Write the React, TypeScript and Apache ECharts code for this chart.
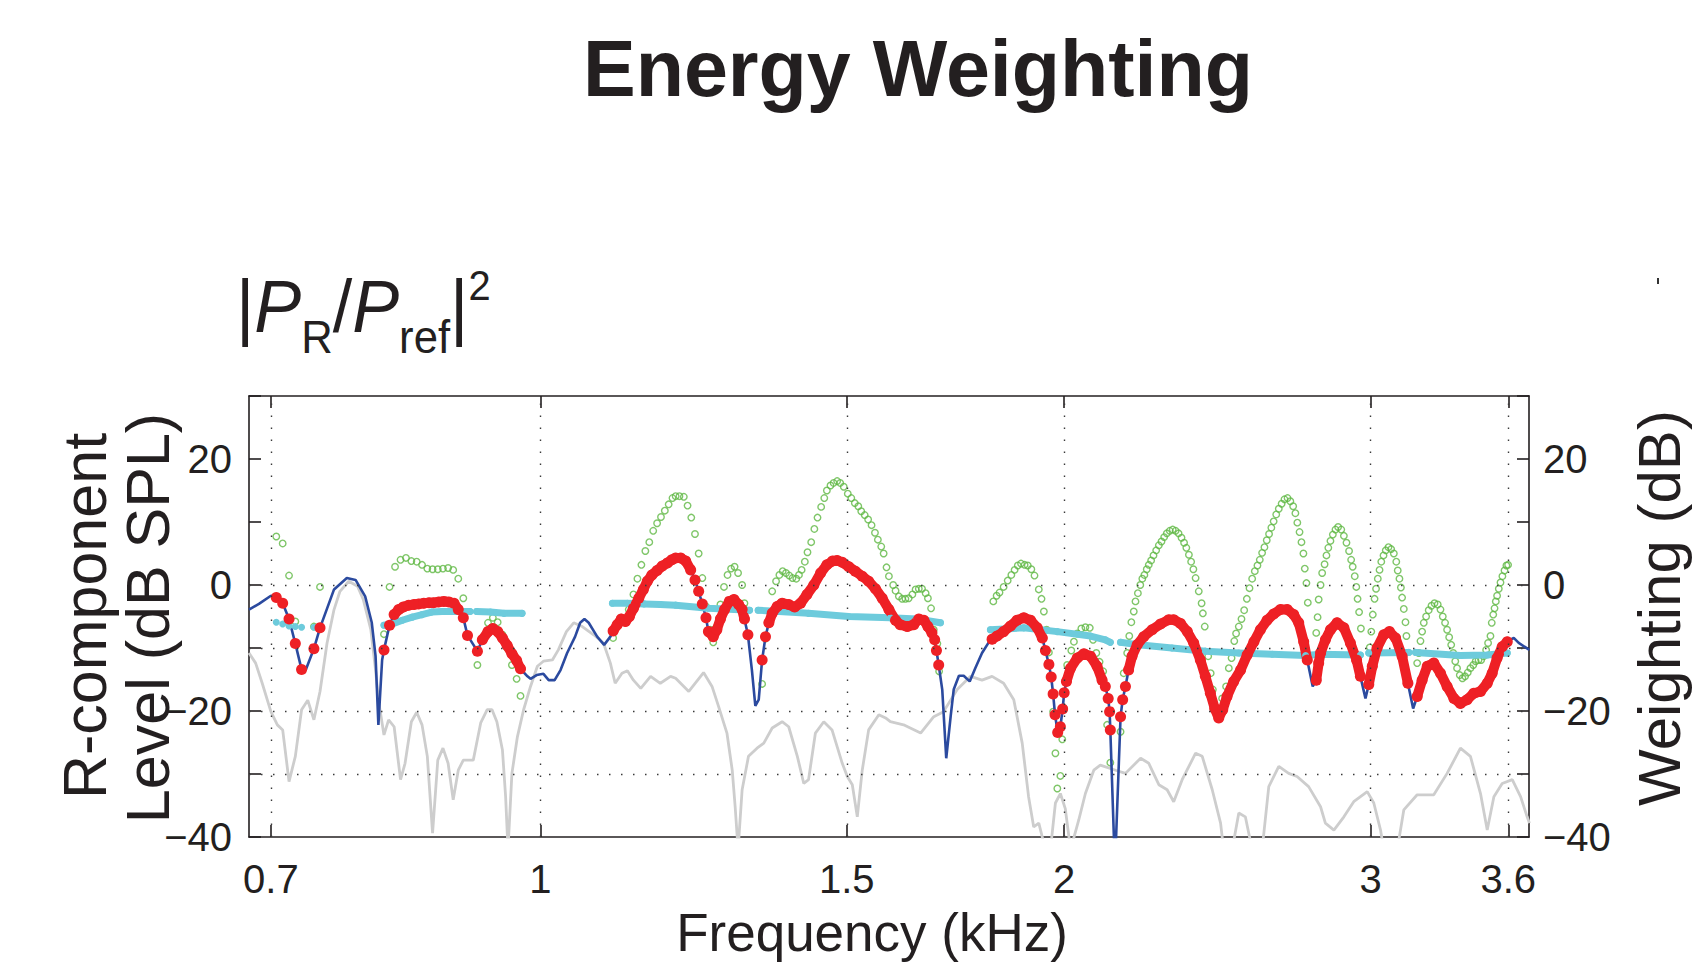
import React, { useEffect, useRef } from "react";
import * as echarts from "echarts";

type Pt = [number, number];
type MaybePt = Pt | null;

// ---------- axes ----------
const X_MIN = 0.68;
const X_MAX = 3.7;
const Y_MIN = -40;
const Y_MAX = 30;
const Y_STEP = 10;
const xTickValues = [0.7, 1, 1.5, 2, 3, 3.6];
const xTickLabels = ["0.7", "1", "1.5", "2", "3", "3.6"];
const yGridValues = [0, -10, -20, -30];

// ---------- data: [frequency kHz, level dB] ----------
const grayCurve: Pt[] = [
  [0.68, -10.8], [0.686, -12.4], [0.692, -15.6], [0.7, -20.1], [0.706, -22.2], [0.711, -23.0],
  [0.717, -31.2], [0.723, -27.2], [0.729, -19.8], [0.735, -18.3], [0.741, -21.4], [0.747, -16.9],
  [0.754, -9.2], [0.761, -3.9], [0.767, -1.0], [0.776, 0.6], [0.785, -0.2], [0.791, -2.3],
  [0.799, -7.1], [0.804, -13.5], [0.807, -18.2], [0.813, -23.8], [0.818, -21.4], [0.824, -22.5],
  [0.831, -30.9], [0.836, -28.3], [0.843, -21.7], [0.849, -20.2], [0.855, -22.2], [0.861, -27.2],
  [0.867, -39.4], [0.873, -27.8], [0.879, -25.9], [0.885, -28.3], [0.891, -34.1], [0.897, -29.4],
  [0.903, -27.8], [0.915, -27.8], [0.924, -21.9], [0.932, -19.8], [0.938, -19.8], [0.944, -21.7],
  [0.951, -26.2], [0.955, -33.6], [0.958, -42], [0.963, -29.9], [0.97, -24.1], [0.978, -19.8],
  [0.987, -16.1], [0.996, -12.9], [1.004, -12.1], [1.016, -11.9], [1.024, -10.3], [1.035, -7.4],
  [1.045, -6.0], [1.057, -6.6], [1.073, -7.9], [1.087, -9.2], [1.097, -12.4], [1.104, -15.6],
  [1.114, -14.0], [1.122, -13.6], [1.131, -15.1], [1.142, -16.4], [1.157, -14.5], [1.172, -15.6],
  [1.188, -14.5], [1.196, -14.8], [1.217, -16.9], [1.241, -13.9], [1.255, -16.1], [1.266, -19.3],
  [1.28, -23.5], [1.289, -29.4], [1.294, -35.2], [1.299, -42], [1.306, -32.5], [1.317, -27.2],
  [1.332, -25.9], [1.344, -25.1], [1.359, -22.7], [1.377, -21.7], [1.389, -22.5], [1.405, -27.2],
  [1.417, -31.5], [1.426, -30.9], [1.439, -23.5], [1.455, -21.7], [1.471, -23.0], [1.491, -28.3],
  [1.501, -30.4], [1.511, -31.7], [1.521, -36.8], [1.531, -29.4], [1.544, -23.0], [1.565, -20.6],
  [1.579, -21.1], [1.589, -21.7], [1.617, -22.2], [1.654, -23.5], [1.683, -20.9], [1.705, -20.1],
  [1.736, -16.6], [1.767, -14.5], [1.794, -15.1], [1.818, -14.5], [1.846, -15.6], [1.871, -18.2],
  [1.892, -25.1], [1.908, -33.6], [1.921, -38.4], [1.934, -37.8], [1.951, -42], [1.964, -42],
  [1.977, -34.6], [1.99, -33.1], [2.003, -35.5], [2.017, -42], [2.039, -37.3], [2.057, -33.1],
  [2.08, -29.4], [2.098, -28.6], [2.141, -29.4], [2.169, -29.9], [2.213, -27.5], [2.237, -28.3],
  [2.267, -31.7], [2.292, -32.5], [2.312, -34.4], [2.338, -30.9], [2.38, -26.7], [2.401, -27.2],
  [2.433, -32.5], [2.46, -37.8], [2.47, -42], [2.498, -42], [2.52, -36.2], [2.542, -36.8],
  [2.565, -42], [2.599, -42], [2.622, -32.0], [2.657, -28.8], [2.692, -29.9], [2.722, -30.4],
  [2.764, -32.0], [2.808, -35.2], [2.826, -37.8], [2.858, -38.9], [2.896, -36.8], [2.934, -34.4],
  [2.987, -32.8], [3.013, -34.6], [3.04, -38.9], [3.053, -42], [3.108, -42], [3.135, -35.7],
  [3.191, -33.3], [3.262, -33.3], [3.32, -29.9], [3.379, -25.9], [3.424, -27.2], [3.47, -33.1],
  [3.501, -38.9], [3.532, -33.6], [3.571, -31.5], [3.619, -30.9], [3.659, -33.6], [3.691, -36.8],
  [3.702, -37.8],
];

// blue curve where it is not covered by the red samples
const blueCurveOnly: Pt[] = [
  [0.68, -3.9], [0.689, -3.0], [0.7, -1.7], [0.733, -13.5], [0.761, -0.7], [0.774, 1.1],
  [0.783, 0.8], [0.793, -1.8], [0.8, -6.0], [0.804, -11.3], [0.807, -22.2], [0.811, -11.9],
  [0.983, -14.5], [0.987, -14.9], [0.995, -14.3], [1.004, -14.1], [1.011, -15.1], [1.019, -15.1],
  [1.027, -13.5], [1.036, -10.8], [1.047, -8.2], [1.054, -6.0], [1.06, -5.4], [1.066, -6.0],
  [1.078, -8.2], [1.088, -9.5], [1.097, -8.2], [1.323, -13.5], [1.329, -19.2], [1.335, -18.2],
  [1.702, -16.6], [1.711, -27.5], [1.721, -20.9], [1.728, -16.6], [1.74, -14.4], [1.751, -14.4],
  [1.765, -15.3], [1.778, -13.2], [1.794, -10.8], [1.81, -9.1], [1.986, -24.0], [2.139, -45],
  [2.779, -16.1], [2.98, -18.0], [3.174, -19.6], [3.626, -8.4], [3.65, -9.2], [3.702, -10.3],
];

// red samples (null = gap between visibly separate dots / segments)
const redDots: MaybePt[] = [
  [0.705, -2.0], null, [0.711, -2.9], null, [0.717, -5.4], null, [0.723, -9.3], null,
  [0.729, -13.4], null, [0.741, -10.1], null, [0.747, -6.8], null,
  [0.813, -10.3], null, [0.819, -6.4], null,
  [0.824, -4.7], [0.829, -3.9], [0.834, -3.5], [0.84, -3.2], [0.846, -3.1], [0.851, -3.0],
  [0.857, -2.9], [0.863, -2.8], [0.868, -2.8], [0.874, -2.7], [0.88, -2.6], [0.886, -2.7],
  [0.892, -2.9], [0.897, -3.9], null,
  [0.903, -5.2], null, [0.908, -8.0], null, [0.92, -10.5], null,
  [0.926, -8.7], [0.933, -7.4], [0.939, -6.9], [0.945, -7.4], [0.951, -8.4], [0.957, -9.6],
  [0.963, -10.9], [0.969, -12.0], [0.974, -13.3], null,
  [1.101, -7.3], [1.107, -6.3], [1.113, -5.4], [1.119, -5.8], [1.125, -5.0], [1.131, -3.7],
  [1.139, -2.1], [1.146, -0.7], [1.152, 0.6], [1.159, 1.6], [1.167, 2.3], [1.175, 3.0],
  [1.183, 3.5], [1.19, 4.0], [1.196, 4.3], [1.204, 4.3], [1.212, 3.8], [1.22, 2.4], null,
  [1.227, 0.8], null, [1.233, -1.0], null, [1.239, -3.0], null, [1.245, -5.2], null,
  [1.249, -7.4], [1.257, -8.2], [1.263, -7.1], [1.269, -5.4], [1.276, -3.9], [1.284, -2.6],
  [1.292, -2.3], [1.3, -3.1], [1.306, -3.9], [1.31, -5.4], null,
  [1.316, -7.9], null, [1.341, -11.9], null, [1.347, -8.2], null,
  [1.353, -6.0], [1.359, -4.5], [1.368, -3.4], [1.377, -2.9], [1.389, -3.1], [1.4, -3.5],
  [1.411, -2.9], [1.423, -1.5], [1.436, 0.0], [1.449, 1.9], [1.461, 3.2], [1.472, 3.8],
  [1.481, 3.9], [1.491, 3.6], [1.504, 2.9], [1.517, 2.2], [1.531, 1.4], [1.544, 0.6],
  [1.558, -0.6], [1.572, -2.1], [1.586, -3.9], [1.6, -5.6], [1.61, -6.3], [1.625, -6.6],
  [1.639, -6.3], [1.65, -5.4], [1.661, -5.6], [1.67, -6.6], [1.679, -7.6], null,
  [1.685, -8.7], null, [1.689, -10.4], null, [1.694, -12.7], null,
  [1.818, -8.6], [1.83, -8.1], [1.846, -7.4], [1.863, -6.5], [1.879, -5.6], [1.896, -5.2],
  [1.913, -5.6], [1.93, -6.8], [1.943, -8.4], null,
  [1.951, -10.4], null, [1.96, -12.6], null, [1.966, -14.6], null, [1.971, -17.3], null,
  [1.976, -20.6], null, [1.983, -23.4], null, [1.99, -22.5], null, [1.996, -19.7], null,
  [2.0, -17.1], null,
  [2.006, -15.3], [2.017, -13.2], [2.035, -11.6], [2.053, -10.9], [2.071, -11.3], [2.089, -12.9],
  [2.103, -15.1], null,
  [2.112, -16.1], null, [2.12, -18.0], null, [2.124, -20.1], null, [2.126, -23.0], null,
  [2.155, -20.9], null, [2.161, -18.2], null, [2.169, -16.1], null,
  [2.178, -13.5], [2.188, -11.3], [2.203, -9.5], [2.222, -8.2], [2.247, -7.1], [2.272, -6.2],
  [2.297, -5.5], [2.312, -5.5], [2.333, -6.1], [2.354, -7.4], [2.374, -9.2], [2.395, -11.9],
  [2.411, -14.5], [2.427, -17.2], [2.441, -19.6], [2.454, -21.1], [2.467, -19.8], [2.481, -17.7],
  [2.503, -15.3], [2.526, -13.5], [2.548, -11.1], [2.571, -9.0], [2.593, -7.1], [2.616, -5.6],
  [2.639, -4.6], [2.663, -3.9], [2.687, -3.9], [2.71, -4.7], [2.728, -6.0], [2.746, -9.0],
  [2.759, -11.9], null,
  [2.792, -15.1], [2.801, -12.4], [2.808, -10.8], [2.826, -8.7], [2.845, -7.1], [2.87, -6.0],
  [2.896, -6.8], [2.921, -9.2], [2.945, -11.9], [2.96, -14.5], null,
  [2.993, -15.8], [3.007, -12.9], [3.026, -10.0], [3.053, -7.9], [3.076, -7.4], [3.101, -8.4],
  [3.128, -11.3], [3.152, -15.6], null,
  [3.191, -17.7], [3.212, -15.1], [3.234, -12.9], [3.262, -12.4], [3.291, -14.0], [3.32, -16.1],
  [3.35, -18.0], [3.379, -18.8], [3.409, -18.2], [3.439, -17.2], [3.47, -16.9], [3.501, -15.6],
  [3.524, -14.0], [3.547, -11.6], [3.571, -9.8], [3.595, -9.0],
];

// cyan weighting samples
const cyanDots: MaybePt[] = [
  [0.705, -5.9], null, [0.711, -6.2], null, [0.717, -6.5], null, [0.723, -6.6], null,
  [0.729, -6.7], null, [0.741, -6.7], null,
  [0.813, -6.4], [0.822, -6.2], [0.833, -5.6], [0.844, -5.1], [0.855, -4.7], [0.866, -4.3],
  [0.878, -4.2], [0.89, -4.2], [0.903, -4.2], [0.911, -4.2], null,
  [0.919, -4.2], [0.936, -4.3], [0.953, -4.5], [0.976, -4.5], null,
  [1.1, -2.9], [1.122, -2.9], [1.147, -3.0], [1.172, -3.1], [1.196, -3.2], [1.249, -3.7],
  [1.319, -4.0], null,
  [1.334, -4.0], [1.426, -4.5], [1.504, -5.0], [1.589, -5.2], [1.646, -5.4], [1.698, -6.0], null,
  [1.814, -7.1], [1.896, -6.8], [1.982, -7.4], [2.071, -8.1], [2.112, -8.7], [2.126, -9.1], null,
  [2.155, -9.1], [2.207, -9.5], [2.307, -10.0], [2.411, -10.5], [2.52, -10.8], [2.634, -11.0],
  [2.753, -11.2], [2.808, -11.0], [2.96, -11.1], null,
  [2.993, -10.8], [3.156, -10.7], null,
  [3.184, -10.7], [3.379, -11.2], [3.501, -11.1], [3.595, -10.8],
];

// green open-circle samples
const greenCircles: Pt[] = [
  [0.705, 7.7], [0.711, 6.6], [0.717, 1.5], [0.723, -5.8], [0.741, -6.6], [0.747, -0.3],
  [0.813, -7.8], [0.819, -0.3], [0.825, 2.9], [0.831, 4.0], [0.837, 4.3], [0.843, 3.8],
  [0.849, 3.7], [0.855, 3.2], [0.861, 2.6], [0.867, 2.5], [0.873, 2.5], [0.879, 2.6],
  [0.885, 2.7], [0.891, 2.4], [0.897, 1.0], [0.903, -2.1], [0.92, -12.7], [0.933, -6.0],
  [0.939, -5.2], [0.945, -5.9], [0.951, -7.9], [0.957, -10.0], [0.963, -12.7], [0.969, -14.9],
  [0.974, -17.6],
  [1.101, -8.4], [1.107, -6.6], [1.124, -3.9], [1.131, -1.5], [1.137, 1.0], [1.143, 3.2],
  [1.149, 5.4], [1.155, 6.8], [1.161, 8.6], [1.167, 9.8], [1.173, 10.8], [1.179, 11.8],
  [1.185, 12.8], [1.191, 13.8], [1.196, 14.1], [1.202, 14.1], [1.209, 14.0], [1.215, 12.6],
  [1.221, 10.7], [1.227, 8.1], [1.233, 5.0], [1.239, 1.1], [1.245, -3.4], [1.252, -7.1],
  [1.257, -9.1], [1.263, -6.6], [1.269, -3.1], [1.275, -0.3], [1.281, 1.6], [1.287, 2.6],
  [1.293, 2.9], [1.299, 1.9], [1.306, 0.0], [1.31, -2.9], [1.341, -15.7], [1.347, -8.5],
  [1.359, -1.0], [1.366, 0.6], [1.372, 1.6], [1.378, 2.2], [1.384, 1.9], [1.39, 1.5],
  [1.396, 1.1], [1.403, 1.0], [1.408, 1.6], [1.413, 2.4], [1.419, 3.7], [1.424, 5.2],
  [1.431, 6.8], [1.437, 8.9], [1.443, 10.7], [1.45, 12.4], [1.456, 13.8], [1.461, 15.0],
  [1.468, 15.8], [1.474, 16.2], [1.481, 16.5], [1.487, 16.2], [1.494, 15.6], [1.502, 14.5],
  [1.509, 13.8], [1.516, 13.0], [1.523, 12.5], [1.529, 11.7], [1.536, 11.1], [1.543, 10.4],
  [1.55, 9.5], [1.557, 8.3], [1.563, 7.2], [1.57, 6.1], [1.575, 5.0], [1.581, 2.8],
  [1.586, 1.4], [1.595, 0.0], [1.6, -0.9], [1.607, -1.8], [1.614, -2.2], [1.621, -2.2],
  [1.628, -2.1], [1.636, -1.5], [1.643, -0.7], [1.65, -0.6], [1.657, -0.6], [1.665, -1.3],
  [1.67, -2.1], [1.677, -3.7], [1.683, -7.1], [1.691, -9.3], [1.695, -13.7],
  [1.821, -2.6], [1.829, -1.7], [1.836, -1.2], [1.846, -0.3], [1.856, 0.7], [1.865, 1.6],
  [1.873, 2.4], [1.881, 3.1], [1.889, 3.4], [1.898, 3.2], [1.906, 3.1], [1.915, 2.5],
  [1.923, 1.5], [1.934, -0.7], [1.941, -2.2], [1.947, -4.2], [1.954, -7.1], [1.96, -10.7],
  [1.971, -20.1], [1.977, -26.7], [1.982, -32.3], [1.99, -30.3], [1.995, -24.5], [1.999, -19.6],
  [2.008, -12.7], [2.019, -10.4], [2.026, -9.0], [2.035, -7.7], [2.046, -6.9], [2.057, -6.7],
  [2.069, -6.8], [2.078, -8.7], [2.087, -10.8], [2.096, -12.2], [2.106, -13.7], [2.117, -22.2],
  [2.126, -28.2], [2.155, -23.3], [2.164, -14.0], [2.174, -10.8], [2.18, -8.1], [2.186, -5.9],
  [2.193, -4.2], [2.198, -2.6], [2.205, -1.3], [2.212, 0.0], [2.218, 1.0], [2.224, 1.6],
  [2.231, 2.5], [2.237, 3.2], [2.244, 3.9], [2.251, 4.7], [2.259, 5.5], [2.267, 6.3],
  [2.275, 6.9], [2.283, 7.6], [2.291, 8.2], [2.3, 8.6], [2.309, 8.8], [2.318, 8.6],
  [2.327, 8.2], [2.336, 7.5], [2.344, 6.7], [2.351, 5.9], [2.359, 4.8], [2.366, 3.7],
  [2.373, 2.5], [2.38, 1.1], [2.39, -1.0], [2.399, -2.9], [2.403, -4.5], [2.409, -6.6],
  [2.42, -11.3], [2.428, -14.0], [2.435, -16.6], [2.449, -19.6], [2.465, -18.0], [2.478, -16.1],
  [2.487, -13.2], [2.496, -11.6], [2.505, -8.9], [2.511, -7.7], [2.52, -6.6], [2.529, -5.4],
  [2.538, -4.0], [2.547, -2.2], [2.556, -0.5], [2.565, 1.0], [2.574, 2.2], [2.583, 3.1],
  [2.591, 4.0], [2.599, 5.1], [2.607, 6.0], [2.615, 7.1], [2.623, 8.1], [2.631, 9.1],
  [2.639, 10.1], [2.648, 11.2], [2.657, 12.1], [2.667, 12.9], [2.677, 13.6], [2.688, 13.8],
  [2.698, 13.3], [2.708, 12.5], [2.716, 11.4], [2.723, 9.9], [2.731, 8.4], [2.738, 6.8],
  [2.745, 5.0], [2.75, 2.6], [2.756, 0.3], [2.761, -2.8], [2.792, -7.6], [2.797, -5.1],
  [2.801, -2.3], [2.808, 0.0], [2.814, 1.9], [2.823, 3.3], [2.83, 4.7], [2.837, 5.9],
  [2.845, 7.0], [2.854, 8.0], [2.864, 8.8], [2.874, 9.2], [2.886, 8.8], [2.896, 7.8],
  [2.906, 6.7], [2.916, 5.4], [2.924, 4.0], [2.93, 2.9], [2.938, 1.4], [2.944, -0.3],
  [2.949, -2.2], [2.955, -4.3], [2.962, -6.9], [2.997, -9.9], [3.003, -7.4], [3.009, -4.7],
  [3.016, -2.2], [3.022, -0.6], [3.029, 1.0], [3.036, 2.4], [3.043, 3.7], [3.052, 4.7],
  [3.061, 5.5], [3.072, 6.0], [3.083, 5.7], [3.094, 5.0], [3.104, 3.7], [3.11, 2.3],
  [3.117, 1.0], [3.123, -0.4], [3.128, -2.0], [3.135, -3.8], [3.142, -5.9], [3.146, -8.1],
  [3.191, -12.4], [3.198, -10.8], [3.205, -8.9], [3.212, -7.4], [3.219, -6.0], [3.229, -5.0],
  [3.24, -4.0], [3.252, -3.3], [3.265, -2.9], [3.279, -3.1], [3.291, -3.9], [3.301, -5.0],
  [3.311, -6.0], [3.32, -7.1], [3.329, -8.3], [3.338, -9.5], [3.347, -10.8], [3.356, -12.1],
  [3.364, -13.2], [3.376, -14.3], [3.388, -14.8], [3.4, -14.5], [3.412, -13.9], [3.424, -13.2],
  [3.437, -12.7], [3.448, -12.1], [3.461, -11.9], [3.473, -11.9], [3.485, -11.3], [3.496, -10.3],
  [3.505, -9.2], [3.516, -8.1], [3.522, -6.0], [3.529, -4.7], [3.535, -3.7], [3.541, -2.6],
  [3.547, -1.7], [3.555, -0.6], [3.563, 0.4], [3.572, 1.4], [3.582, 2.3], [3.591, 3.1],
  [3.599, 3.2],
];

// ---------- styling ----------
const FONT = "'Liberation Sans', Arial, Helvetica, sans-serif";
const INK = "#231f20";
const GRID_DOT: number[] = [1.5, 10.5];

const toSeriesData = (pts: MaybePt[]) => pts.map((p) => (p ? p : [null, null]));
const blueData: Pt[] = [...blueCurveOnly, ...(redDots.filter((p) => p) as Pt[])].sort(
  (a, b) => a[0] - b[0]
);

const fmtY = (v: number) => {
  if (Math.round(v) % 20 !== 0) return "";
  return v < 0 ? "\u2212" + Math.abs(v) : String(v);
};
const fmtX = (v: number) => {
  const i = xTickValues.findIndex((t) => Math.abs(t - v) / t < 1e-3);
  return i >= 0 ? xTickLabels[i] : "";
};

type TxtOpts = { bold?: boolean; italic?: boolean; align?: string; rotation?: number };
function txt(text: string, x: number, y: number, size: number, o: TxtOpts = {}) {
  const align = o.align || "left";
  return {
    type: "text",
    x,
    y,
    rotation: o.rotation || 0,
    silent: true,
    z: 100,
    style: {
      text,
      fill: INK,
      fontSize: size,
      fontFamily: FONT,
      fontWeight: o.bold ? "bold" : "normal",
      fontStyle: o.italic ? "italic" : "normal",
      align,
      verticalAlign: "middle",
      textAlign: align,
      textVerticalAlign: "middle",
    },
  };
}

// |P_R / P_ref|^2 as one rich text (main 74px, subscripts 46px, superscript 42px)
const MAIN_LH = 108;
const pressureLabel = {
  type: "text",
  x: 236,
  y: 252,
  scaleX: 0.95,
  silent: true,
  z: 100,
  style: {
    text: "{b||}{p|P}{s|R}{b|/}{p|P}{s|ref}{b||}{u|2}",
    fill: INK,
    fontFamily: FONT,
    fontSize: 74,
    align: "left",
    verticalAlign: "top",
    textAlign: "left",
    textVerticalAlign: "top",
    rich: {
      b: { fontSize: 74, fontFamily: FONT, fill: INK, color: INK, lineHeight: MAIN_LH, verticalAlign: "middle" },
      p: {
        fontSize: 74,
        fontStyle: "italic",
        fontFamily: FONT,
        fill: INK,
        color: INK,
        lineHeight: MAIN_LH,
        verticalAlign: "middle",
      },
      s: { fontSize: 46, fontFamily: FONT, fill: INK, color: INK, verticalAlign: "bottom" },
      u: { fontSize: 42, fontFamily: FONT, fill: INK, color: INK, verticalAlign: "top", padding: [13, 0, 0, 0] },
    },
  },
};

const axisLineStyle = { color: INK, width: 1.6 };

export default function App() {
  const ref = useRef<HTMLDivElement>(null);

  useEffect(() => {
    if (!ref.current) return;
    const chart = echarts.init(ref.current, undefined, { renderer: "svg" });

    const xBase = {
      type: "log",
      logBase: 10,
      min: X_MIN,
      max: X_MAX,
      minorTick: { show: false },
      minorSplitLine: { show: false },
      splitLine: { show: false },
      axisLine: { show: true, onZero: false, lineStyle: axisLineStyle },
      axisTick: {
        show: true,
        inside: true,
        length: 12,
        customValues: xTickValues,
        lineStyle: axisLineStyle,
      },
    };
    const yBase = {
      type: "value",
      min: Y_MIN,
      max: Y_MAX,
      interval: Y_STEP,
      splitLine: { show: false },
      axisLine: { show: true, onZero: false, lineStyle: axisLineStyle },
      axisTick: { show: true, inside: true, length: 12, lineStyle: axisLineStyle },
    };

    const option: any = {
      animation: false,
      backgroundColor: "#ffffff",
      grid: { left: 249, right: 165, top: 396, bottom: 136, containLabel: false },
      xAxis: [
        {
          ...xBase,
          position: "bottom",
          axisLabel: {
            show: true,
            customValues: xTickValues,
            formatter: fmtX,
            margin: 22,
            fontSize: 40,
            fontFamily: FONT,
            color: INK,
          },
        },
        { ...xBase, position: "top", axisLabel: { show: false } },
      ],
      yAxis: [
        {
          ...yBase,
          position: "left",
          axisLabel: { formatter: fmtY, margin: 17, fontSize: 40, fontFamily: FONT, color: INK },
        },
        {
          ...yBase,
          position: "right",
          axisLabel: { formatter: fmtY, margin: 14, fontSize: 40, fontFamily: FONT, color: INK },
        },
      ],
      series: [
        {
          name: "reference",
          type: "line",
          data: grayCurve,
          showSymbol: false,
          silent: true,
          lineStyle: { color: "#cdcdcd", width: 2.8 },
          markLine: {
            silent: true,
            symbol: ["none", "none"],
            label: { show: false },
            lineStyle: { type: GRID_DOT, color: "#3a3a3a", width: 1.4 },
            data: [
              ...yGridValues.map((v) => ({ yAxis: v })),
              ...xTickValues.map((v) => ({ xAxis: v })),
            ],
          },
        },
        {
          name: "R-component",
          type: "line",
          data: blueData,
          showSymbol: false,
          silent: true,
          lineStyle: { color: "#2b4a9f", width: 2.6 },
        },
        {
          name: "weighting",
          type: "line",
          data: toSeriesData(cyanDots),
          symbol: "circle",
          symbolSize: 7,
          showSymbol: true,
          silent: true,
          itemStyle: { color: "#6dcbdc" },
          lineStyle: { color: "#6dcbdc", width: 7, cap: "round", join: "round" },
        },
        {
          name: "unweighted",
          type: "scatter",
          data: greenCircles,
          symbol: "circle",
          symbolSize: 6.5,
          silent: true,
          itemStyle: { color: "rgba(255,255,255,0)", borderColor: "#5fb844", borderWidth: 1.4 },
        },
        {
          name: "energy weighted",
          type: "line",
          data: toSeriesData(redDots),
          symbol: "circle",
          symbolSize: 11,
          showSymbol: true,
          silent: true,
          itemStyle: { color: "#ee2025" },
          lineStyle: { color: "#ee2025", width: 10, cap: "round", join: "round" },
        },
      ],
      graphic: [
        txt("Energy Weighting", 918, 68, 79, { bold: true, align: "center" }),
        pressureLabel,
        txt("R-component", 85, 616, 61, { align: "center", rotation: Math.PI / 2 }),
        txt("Level (dB SPL)", 147.5, 618, 61, { align: "center", rotation: Math.PI / 2 }),
        txt("Weighting (dB)", 1659, 608, 60, { align: "center", rotation: Math.PI / 2 }),
        txt("Frequency (kHz)", 872, 932.6, 53, { align: "center" }),
        {
          type: "rect",
          silent: true,
          shape: { x: 1657, y: 278, width: 2, height: 6 },
          style: { fill: "#333333" },
        },
      ],
    };

    chart.setOption(option);
    return () => chart.dispose();
  }, []);

  return (
    <div
      ref={ref}
      style={{ position: "fixed", left: 0, top: 0, width: 1694, height: 973, background: "#fff" }}
    />
  );
}
